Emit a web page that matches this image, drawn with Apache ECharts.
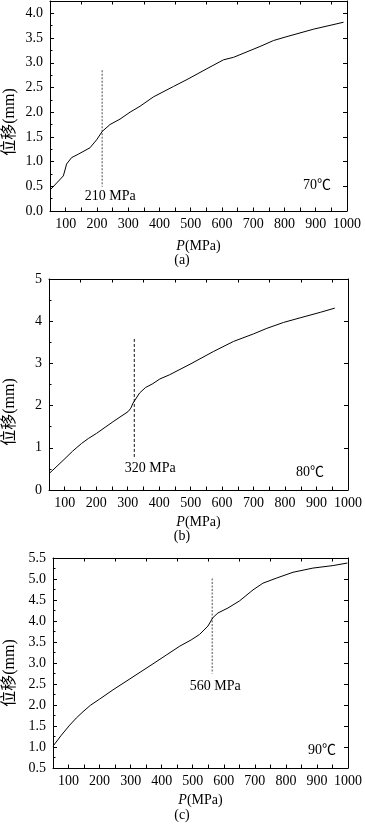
<!DOCTYPE html>
<html>
<head>
<meta charset="utf-8">
<script src="https://cdn.jsdelivr.net/npm/echarts@6/dist/echarts.min.js"></script>
<style>
html,body{margin:0;padding:0;background:#fff;}
#c{width:365px;height:826px;}
</style>
</head>
<body>
<div id="c"></div>
<script>
// Panel (a) 70℃
const pA = [51, 92.6, 98, 103, 119, 140.6, 178, 199, 217, 242, 274, 306, 338, 381, 445, 488, 552, 605, 637, 722, 765, 808, 893, 989];
const dA = [0.43, 0.71, 0.83, 0.95, 1.08, 1.15, 1.28, 1.44, 1.61, 1.75, 1.86, 2.0, 2.12, 2.31, 2.52, 2.66, 2.88, 3.06, 3.11, 3.33, 3.45, 3.53, 3.68, 3.82];
const markA = {x: 217, yTop: 2.85, yBottom: 0.49, label: '210 MPa', temp: '70℃'};
const yTicksA = {min: 0, max: 4.25, interval: 0.5};

// Panel (b) 80℃
const pB = [52, 94.6, 125, 153, 175, 200.7, 253.8, 301.6, 310, 317, 338, 357, 380, 402, 433, 498, 572, 636, 700, 742, 795, 848, 912, 958];
const dB = [0.40, 0.70, 0.92, 1.10, 1.22, 1.34, 1.62, 1.86, 1.94, 2.06, 2.30, 2.43, 2.52, 2.63, 2.73, 2.98, 3.28, 3.52, 3.70, 3.83, 3.97, 4.08, 4.21, 4.31];
const markB = {x: 321, yTop: 3.58, yBottom: 0.75, label: '320 MPa', temp: '80℃'};
const yTicksB = {min: 0, max: 5, interval: 1};

// Panel (c) 90℃
const pC = [50, 76.8, 103.7, 125, 146.6, 170, 200, 243, 307.6, 372, 415, 458, 495, 522, 549, 565, 581, 613.5, 651, 694, 726, 769, 823, 887, 952, 998];
const dC = [1.02, 1.28, 1.52, 1.69, 1.84, 1.99, 2.14, 2.36, 2.67, 2.98, 3.19, 3.40, 3.55, 3.68, 3.88, 4.08, 4.19, 4.31, 4.48, 4.74, 4.90, 5.02, 5.16, 5.26, 5.32, 5.38];
const markC = {x: 563, yTop: 5.01, yBottom: 2.75, label: '560 MPa', temp: '90℃'};
const yTicksC = {min: 0.5, max: 5.5, interval: 0.5};

const xRange = {min: 50, max: 1000, interval: 50};
const panelTags = ['(a)', '(b)', '(c)'];
const yName = '位移(mm)';
const xName = '{i|P}(MPa)';

const FONT = "Liberation Serif, Noto Sans CJK SC, serif";

const grids = [
  {left: 50, right: 18, top: 1, height: 210, containLabel: false, outerBoundsMode: 'none'},
  {left: 49, right: 17, top: 279, height: 211, containLabel: false, outerBoundsMode: 'none'},
  {left: 53, right: 17, top: 558, height: 210, containLabel: false, outerBoundsMode: 'none'}
];
const xNameGap = [28, 25, 25];
const markLabelOffset = [[8, 0], [16, 0], [3, 3]];

const panels = [
  {p: pA, d: dA, m: markA, yt: yTicksA, dash: {type: [2, 1.5], color: '#888', width: 1.5}, yDec: 1},
  {p: pB, d: dB, m: markB, yt: yTicksB, dash: {type: [3, 2], color: '#111', width: 1}, yDec: 0},
  {p: pC, d: dC, m: markC, yt: yTicksC, dash: {type: [2, 1.5], color: '#888', width: 1.5}, yDec: 1}
];

const xAxes = [], yAxes = [], series = [], graphics = [];
const axisLineStyle = {color: '#000', width: 1};

panels.forEach((pn, i) => {
  xAxes.push({
    type: 'value', gridIndex: i, position: 'bottom',
    min: xRange.min, max: xRange.max, interval: xRange.interval,
    axisLine: {show: true, onZero: false, lineStyle: axisLineStyle},
    axisTick: {show: true, inside: true, length: 3.5, lineStyle: axisLineStyle},
    axisLabel: {
      show: true, margin: 6, color: '#000', fontFamily: FONT, fontSize: 14,
      formatter: v => (v % 100 === 0 ? String(v) : ''),
      showMinLabel: true, showMaxLabel: true, hideOverlap: false
    },
    splitLine: {show: false},
    name: xName, nameLocation: 'middle', nameGap: xNameGap[i],
    nameTextStyle: {
      color: '#000', fontFamily: FONT, fontSize: 14,
      rich: {i: {fontStyle: 'italic', fontFamily: FONT, fontSize: 14, color: '#000'}}
    }
  });
  xAxes.push({
    type: 'value', gridIndex: i, position: 'top',
    min: xRange.min, max: xRange.max, interval: 100,
    axisLine: {show: true, onZero: false, lineStyle: axisLineStyle},
    axisTick: {show: true, inside: true, length: 3.5, lineStyle: axisLineStyle},
    axisLabel: {show: false},
    splitLine: {show: false}
  });
  const step = pn.yt.interval;
  yAxes.push({
    type: 'value', gridIndex: i, position: 'left',
    min: pn.yt.min, max: pn.yt.max, interval: step,
    axisLine: {show: true, onZero: false, lineStyle: axisLineStyle},
    axisTick: {show: true, inside: true, length: 4, lineStyle: axisLineStyle},
    minorTick: {show: true, splitNumber: 2, length: 2.5, lineStyle: {color: '#000', width: 1}},
    axisLabel: {
      show: true, margin: 7, color: '#000', fontFamily: FONT, fontSize: 14,
      formatter: v => {
        const r = v / step;
        return Math.abs(r - Math.round(r)) < 1e-6 ? v.toFixed(pn.yDec) : '';
      },
      showMaxLabel: true
    },
    splitLine: {show: false}
  });
  yAxes.push({
    type: 'value', gridIndex: i, position: 'right',
    min: pn.yt.min, max: pn.yt.max, interval: step,
    axisLine: {show: true, onZero: false, lineStyle: axisLineStyle},
    axisTick: {show: true, inside: true, length: 4, lineStyle: axisLineStyle},
    axisLabel: {show: false},
    splitLine: {show: false}
  });

  const xi = i * 2, yi = i * 2;
  series.push({
    type: 'line', xAxisIndex: xi, yAxisIndex: yi,
    data: pn.p.map((x, k) => [x, pn.d[k]]),
    showSymbol: false, symbol: 'none', smooth: false,
    lineStyle: {color: '#000', width: 1},
    silent: true, animation: false, z: 3
  });
  series.push({
    type: 'line', xAxisIndex: xi, yAxisIndex: yi,
    data: [
      [pn.m.x, pn.m.yTop],
      {value: [pn.m.x, pn.m.yBottom],
       label: {show: true, position: 'bottom', distance: 2, offset: markLabelOffset[i],
               formatter: pn.m.label, color: '#000', fontFamily: FONT, fontSize: 14}}
    ],
    showSymbol: true, symbol: 'circle', symbolSize: 1,
    itemStyle: {color: 'rgba(0,0,0,0)', borderWidth: 0},
    lineStyle: pn.dash,
    silent: true, animation: false, z: 2
  });
});

const tempPos = [[317, 185], [310, 472], [322, 750]];
const tagPos = [[182, 260], [182, 536], [182, 815]];
const yNamePos = [[10, 122], [10, 412], [10, 673]];
panels.forEach((pn, i) => {
  graphics.push({
    type: 'text', x: tempPos[i][0], y: tempPos[i][1],
    style: {text: pn.m.temp, font: "14px " + FONT, fill: '#000', align: 'center', verticalAlign: 'middle'}
  });
  graphics.push({
    type: 'text', x: tagPos[i][0], y: tagPos[i][1],
    style: {text: panelTags[i], font: "14px " + FONT, fill: '#000', align: 'center', verticalAlign: 'middle'}
  });
  graphics.push({
    type: 'text', x: yNamePos[i][0], y: yNamePos[i][1], rotation: Math.PI / 2,
    style: {text: yName, font: "16px " + FONT, fill: '#000', align: 'center', verticalAlign: 'middle'}
  });
});

const chart = echarts.init(document.getElementById('c'), null, {renderer: 'canvas'});
chart.setOption({
  backgroundColor: '#fff',
  animation: false,
  grid: grids,
  xAxis: xAxes,
  yAxis: yAxes,
  series: series,
  graphic: graphics
});
</script>
</body>
</html>
